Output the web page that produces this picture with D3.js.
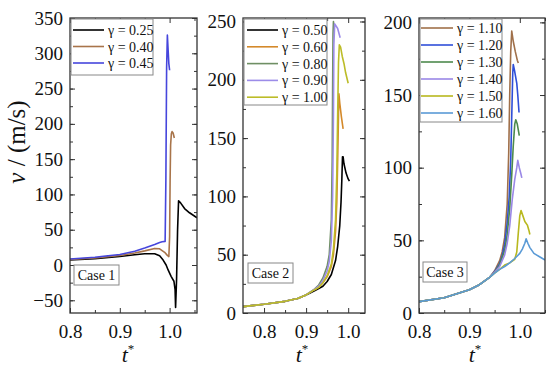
<!DOCTYPE html>
<html><head><meta charset="utf-8">
<script src="https://cdn.jsdelivr.net/npm/d3@7"></script>
<style>body{margin:0;background:#fff} text{font-family:"Liberation Serif","Times New Roman",serif;fill:#111}</style>
</head><body><svg id="c" width="550" height="376"></svg>
<script>
// ---------- DATA ----------
// Case 1
const case1Labels = ["γ = 0.25", "γ = 0.40", "γ = 0.45"];
const case1Colors = ["#000000", "#a8744a", "#4646dc"];
const c1_g025 = [[0.8,7],[0.85,9],[0.9,12],[0.93,14.5],[0.95,16],[0.97,16],[0.98,13],[0.987,7],[0.993,0],[0.997,-7],[1.003,-16],[1.0087,-23],[1.011,-35],[1.012,-60],[1.014,-20],[1.016,50],[1.018,91],[1.022,88],[1.03,80],[1.04,74],[1.055,67]];
const c1_g040 = [[0.8,8],[0.85,10],[0.9,13.5],[0.93,17],[0.95,20],[0.97,23.5],[0.98,23],[0.99,18],[0.995,14],[0.9985,12],[1.0,40],[1.001,120],[1.002,170],[1.0035,186],[1.005,189],[1.007,187],[1.0095,180]];
const c1_g045 = [[0.8,8.5],[0.85,11],[0.9,15],[0.93,19.5],[0.95,24],[0.97,29],[0.98,32],[0.985,33],[0.991,33.5],[0.9925,120],[0.994,280],[0.9955,326],[0.997,305],[0.9985,285],[1.0,276]];
const case1Series = [c1_g025, c1_g040, c1_g045];
// Case 2
const case2Labels = ["γ = 0.50", "γ = 0.60", "γ = 0.80", "γ = 0.90", "γ = 1.00"];
const case2Colors = ["#000000", "#d4892a", "#6f8f64", "#9c8ce8", "#bcbc28"];
const c2_g050 = [[0.75,5.5],[0.8,7.5],[0.85,10],[0.88,12.5],[0.9,15.5],[0.92,19],[0.94,23],[0.95,27],[0.96,33],[0.97,45],[0.975,57],[0.98,75],[0.983,95],[0.985,115],[0.9865,134],[0.988,134],[0.99,128],[0.995,120],[1.0,115],[1.003,113]];
const c2_g060 = [[0.75,5.5],[0.8,7.5],[0.85,10],[0.88,12.5],[0.9,15.5],[0.92,20],[0.93,22],[0.94,26],[0.95,31],[0.96,40],[0.965,50],[0.97,70],[0.973,95],[0.975,130],[0.977,170],[0.978,188],[0.98,180],[0.984,168],[0.988,158]];
const c2_g080 = [[0.75,5.5],[0.8,7.5],[0.85,10],[0.88,12.5],[0.9,15.5],[0.92,20.5],[0.93,24],[0.94,30],[0.95,40],[0.955,50],[0.96,80],[0.962,130],[0.963,190],[0.964,240],[0.965,250],[0.966,247]];
const c2_g090 = [[0.75,5.5],[0.8,7.5],[0.85,10],[0.88,12.5],[0.9,15.5],[0.92,20.5],[0.93,23],[0.94,28],[0.95,36],[0.955,44],[0.96,62],[0.963,100],[0.965,170],[0.966,230],[0.968,248],[0.975,244],[0.981,236]];
const c2_g100 = [[0.75,5.5],[0.8,7.5],[0.85,10],[0.88,12.5],[0.9,15.5],[0.92,20],[0.93,22],[0.94,26],[0.95,32],[0.96,42],[0.965,55],[0.97,80],[0.973,120],[0.975,170],[0.977,215],[0.979,230],[0.982,228],[0.986,220],[0.99,214],[0.994,206],[0.998,200],[1.0,197]];
const case2Series = [c2_g050, c2_g060, c2_g080, c2_g090, c2_g100];
// Case 3
const case3Labels = ["γ = 1.10", "γ = 1.20", "γ = 1.30", "γ = 1.40", "γ = 1.50", "γ = 1.60"];
const case3Colors = ["#a0704a", "#2f4fd8", "#4d8a4d", "#9a88e6", "#b8b81e", "#5a9ad6"];
const c3_g110 = [[0.8,7.8],[0.85,10.5],[0.9,16],[0.92,19.5],[0.94,24.5],[0.95,29],[0.96,36],[0.965,42],[0.97,52],[0.975,75],[0.978,110],[0.98,150],[0.982,180],[0.984,194],[0.987,187],[0.991,180],[0.995,174],[0.997,172]];
const c3_g120 = [[0.8,7.8],[0.85,10.5],[0.9,16],[0.92,19.5],[0.94,24.5],[0.95,28.5],[0.96,34],[0.965,39],[0.97,47],[0.975,62],[0.979,80],[0.982,105],[0.984,135],[0.986,165],[0.987,171],[0.99,166],[0.994,158],[0.996,150],[0.9985,138]];
const c3_g130 = [[0.8,7.8],[0.85,10.5],[0.9,16],[0.92,19.5],[0.94,24.5],[0.95,28],[0.96,33],[0.97,43],[0.975,54],[0.98,72],[0.984,95],[0.987,115],[0.99,130],[0.992,133],[0.995,130],[0.997,126],[0.999,122]];
const c3_g140 = [[0.8,7.8],[0.85,10.5],[0.9,16],[0.92,19.5],[0.94,24.5],[0.95,28],[0.96,32],[0.97,40],[0.975,48],[0.98,60],[0.985,78],[0.99,92],[0.994,100],[0.996,105],[0.999,100],[1.002,96],[1.004,93]];
const c3_g150 = [[0.8,7.8],[0.85,10.5],[0.9,16],[0.92,19.5],[0.94,24.5],[0.95,27.5],[0.96,30],[0.97,33],[0.98,34.5],[0.99,37],[0.994,42],[0.997,55],[1.0,67],[1.0025,70.5],[1.006,67],[1.01,63],[1.015,60.5],[1.018,57],[1.02,54]];
const c3_g160 = [[0.8,7.8],[0.85,10.5],[0.9,16],[0.92,19.5],[0.94,24.5],[0.95,27.5],[0.96,30],[0.97,32],[0.98,34.5],[0.99,37.5],[1.0,41],[1.005,44],[1.01,48],[1.0125,51],[1.016,48],[1.02,45],[1.028,41],[1.04,38.5],[1.05,36.5]];
const case3Series = [c3_g110, c3_g120, c3_g130, c3_g140, c3_g150, c3_g160];

const xTicksMajor = [0.8, 0.9, 1.0];
const xTickLabels = ["0.8", "0.9", "1.0"];
const yTicks1 = [-50, 0, 50, 100, 150, 200, 250, 300, 350];
const yTicks2 = [0, 50, 100, 150, 200, 250];
const yTicks3 = [0, 50, 100, 150, 200];
const caseNames = ["Case 1", "Case 2", "Case 3"];

// ---------- LAYOUT ----------
const SERIF = '"Liberation Serif","Times New Roman",serif';
const svg = d3.select("#c");
const panels = [
  {x0:70, x1:197, y0:18, y1:313, xd:[0.8,1.055], yd:[-68,350], yT:yTicks1, yMin:25, xMinor:[0.85,0.95,1.05],
   series:case1Series, colors:case1Colors, labels:case1Labels, name:caseNames[0],
   leg:{x:71, y:19, w:82, h:56, r0:30, dr:16.5, lx0:73, lx1:104, tx:108}, cb:{x:74,y:265,w:45,h:20}, tX:128},
  {x0:243, x1:365, y0:18, y1:313, xd:[0.75,1.04], yd:[0,253], yT:yTicks2, yMin:25, xMinor:[0.85,0.95],
   series:case2Series, colors:case2Colors, labels:case2Labels, name:caseNames[1],
   leg:{x:244, y:19, w:83, h:86, r0:30, dr:16.8, lx0:247, lx1:278, tx:282}, cb:{x:248,y:263,w:45,h:20}, tX:302},
  {x0:419, x1:545, y0:18, y1:313, xd:[0.8,1.05], yd:[0,203], yT:yTicks3, yMin:25, xMinor:[0.85,0.95,1.05],
   series:case3Series, colors:case3Colors, labels:case3Labels, name:caseNames[2],
   leg:{x:420, y:19, w:82, h:103, r0:28, dr:17, lx0:421, lx1:453, tx:457}, cb:{x:423,y:262,w:44,h:20}, tX:475}
];

panels.forEach((p, i) => {
  const x = d3.scaleLinear().domain(p.xd).range([p.x0, p.x1]);
  const y = d3.scaleLinear().domain(p.yd).range([p.y1, p.y0]);
  const g = svg.append("g");
  const cid = "clip" + i;
  svg.append("clipPath").attr("id", cid).append("rect")
    .attr("x", p.x0).attr("y", p.y0).attr("width", p.x1 - p.x0).attr("height", p.y1 - p.y0);

  const yMinor = d3.range(Math.ceil(p.yd[0] / p.yMin) * p.yMin, p.yd[1] + 0.001, p.yMin);
  const axStyle = sel => {
    sel.attr("font-family", SERIF).attr("font-size", 19);
    sel.select(".domain").remove();
    sel.selectAll("line").attr("stroke", "#333").attr("stroke-width", 1);
    sel.selectAll("text").attr("fill", "#111").style("font-family", SERIF);
  };
  g.append("g").attr("transform", `translate(${p.x0},0)`).call(d3.axisLeft(y).tickValues(yMinor).tickSize(-3).tickFormat("")).call(axStyle);
  g.append("g").attr("transform", `translate(${p.x1},0)`).call(d3.axisRight(y).tickValues(yMinor).tickSize(-3).tickFormat("")).call(axStyle);
  g.append("g").attr("transform", `translate(${p.x1},0)`).call(d3.axisRight(y).tickValues(p.yT).tickSize(-5).tickFormat("")).call(axStyle);
  g.append("g").attr("transform", `translate(${p.x0},0)`).call(d3.axisLeft(y).tickValues(p.yT).tickSize(-5).tickPadding(7)).call(axStyle);

  g.append("g").attr("transform", `translate(0,${p.y1})`).call(d3.axisBottom(x).tickValues(p.xMinor).tickSize(-3).tickFormat("")).call(axStyle);
  g.append("g").attr("transform", `translate(0,${p.y0})`).call(d3.axisTop(x).tickValues(p.xMinor).tickSize(-3).tickFormat("")).call(axStyle);
  g.append("g").attr("transform", `translate(0,${p.y0})`).call(d3.axisTop(x).tickValues(xTicksMajor).tickSize(-5).tickFormat("")).call(axStyle);
  g.append("g").attr("transform", `translate(0,${p.y1})`).call(d3.axisBottom(x).tickValues(xTicksMajor).tickSize(-5).tickPadding(12).tickFormat((d, k) => xTickLabels[k])).call(axStyle);

  const line = d3.line().x(d => x(d[0])).y(d => y(d[1]));
  const lg = g.append("g").attr("clip-path", `url(#${cid})`);
  p.series.forEach((s, k) => {
    lg.append("path").attr("d", line(s)).attr("fill", "none").attr("stroke", p.colors[k]).attr("stroke-width", 1.6).attr("stroke-linejoin", "round");
  });

  g.append("rect").attr("x", p.x0).attr("y", p.y0).attr("width", p.x1 - p.x0).attr("height", p.y1 - p.y0)
    .attr("fill", "none").attr("stroke", "#333").attr("stroke-width", 1.3);

  const L = p.leg;
  g.append("rect").attr("x", L.x).attr("y", L.y).attr("width", L.w).attr("height", L.h).attr("fill", "#fff").attr("stroke", "#888").attr("stroke-width", 1);
  p.labels.forEach((lab, k) => {
    const yy = L.r0 + k * L.dr;
    g.append("line").attr("x1", L.lx0).attr("x2", L.lx1).attr("y1", yy).attr("y2", yy).attr("stroke", p.colors[k]).attr("stroke-width", 1.6);
    g.append("text").attr("x", L.tx).attr("y", yy + 5).attr("font-size", 14).text(lab);
  });

  const C = p.cb;
  g.append("rect").attr("x", C.x).attr("y", C.y).attr("width", C.w).attr("height", C.h).attr("fill", "#fff").attr("stroke", "#888").attr("stroke-width", 1);
  g.append("text").attr("x", C.x + C.w / 2).attr("y", C.y + C.h / 2 + 5).attr("text-anchor", "middle").attr("font-size", 14).text(p.name);

  const tt = g.append("text").attr("x", p.tX).attr("y", 362).attr("text-anchor", "middle").attr("font-size", 22);
  tt.append("tspan").attr("font-style", "italic").text("t");
  tt.append("tspan").attr("dy", -9).attr("font-size", 13).text("*");
});

const yt = svg.append("text").attr("transform", "translate(25,142) rotate(-90)").attr("text-anchor", "middle")
  .attr("font-size", 25);
yt.append("tspan").attr("font-style", "italic").text("v");
yt.append("tspan").text(" / (m/s)");
</script></body></html>
